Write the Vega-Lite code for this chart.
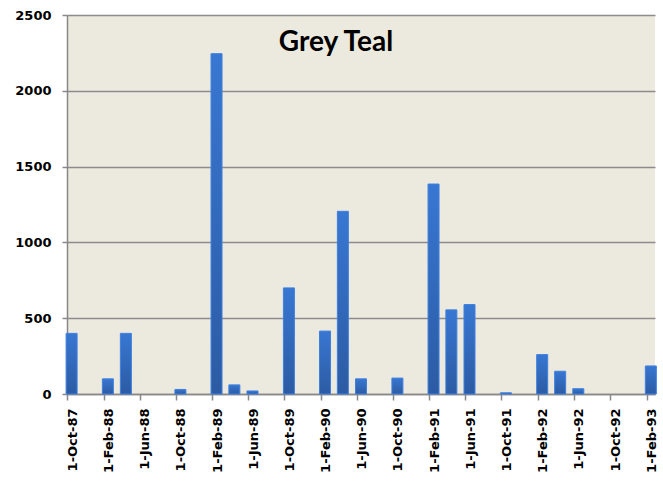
{
  "$schema": "https://vega.github.io/schema/vega-lite/v6.json",
  "width": 588,
  "height": 379,
  "autosize": {"type": "none"},
  "padding": {"left": 67, "top": 15, "right": 8, "bottom": 87},
  "background": "white",
  "title": {
    "text": "Grey Teal",
    "font": "Lato",
    "fontSize": 28,
    "fontWeight": "bold",
    "color": "black",
    "anchor": "middle",
    "frame": "group",
    "orient": "top",
    "dx": -25,
    "offset": -70,
    "baseline": "alphabetic"
  },
  "data": {
    "values": [
      {"date": "1987/10/01", "count": 400},
      {"date": "1988/02/01", "count": 100},
      {"date": "1988/04/01", "count": 400},
      {"date": "1988/10/01", "count": 30},
      {"date": "1989/02/01", "count": 2245},
      {"date": "1989/04/01", "count": 60},
      {"date": "1989/06/01", "count": 20},
      {"date": "1989/10/01", "count": 700},
      {"date": "1990/02/01", "count": 415},
      {"date": "1990/04/01", "count": 1205},
      {"date": "1990/06/01", "count": 100},
      {"date": "1990/10/01", "count": 105},
      {"date": "1991/02/01", "count": 1385},
      {"date": "1991/04/01", "count": 555},
      {"date": "1991/06/01", "count": 590},
      {"date": "1991/10/01", "count": 8},
      {"date": "1992/02/01", "count": 260},
      {"date": "1992/04/01", "count": 150},
      {"date": "1992/06/01", "count": 35},
      {"date": "1993/02/01", "count": 185}
    ]
  },
  "mark": {
    "type": "bar",
    "width": 11,
    "fill": {
      "gradient": "linear",
      "x1": 0, "y1": 0, "x2": 0, "y2": 1,
      "stops": [
        {"offset": 0, "color": "#3877D2"},
        {"offset": 1, "color": "#2C5BA3"}
      ]
    },
    "stroke": "#3E80E0",
    "strokeWidth": 1
  },
  "encoding": {
    "x": {
      "field": "date",
      "type": "temporal",
      "timeUnit": "yearmonth",
      "bandPosition": 0.5,
      "scale": {
        "domain": [
          {"year": 1987, "month": 10, "date": 1},
          {"year": 1993, "month": 3, "date": 1}
        ]
      },
      "axis": {
        "title": null,
        "values": [
          {"year": 1987, "month": 10, "date": 1},
          {"year": 1988, "month": 2, "date": 1},
          {"year": 1988, "month": 6, "date": 1},
          {"year": 1988, "month": 10, "date": 1},
          {"year": 1989, "month": 2, "date": 1},
          {"year": 1989, "month": 6, "date": 1},
          {"year": 1989, "month": 10, "date": 1},
          {"year": 1990, "month": 2, "date": 1},
          {"year": 1990, "month": 6, "date": 1},
          {"year": 1990, "month": 10, "date": 1},
          {"year": 1991, "month": 2, "date": 1},
          {"year": 1991, "month": 6, "date": 1},
          {"year": 1991, "month": 10, "date": 1},
          {"year": 1992, "month": 2, "date": 1},
          {"year": 1992, "month": 6, "date": 1},
          {"year": 1992, "month": 10, "date": 1},
          {"year": 1993, "month": 2, "date": 1}
        ],
        "format": "%-d-%b-%y",
        "formatType": "time",
        "labelAngle": -90,
        "labelAlign": "right",
        "labelBaseline": "middle",
        "labelFont": "DejaVu Sans",
        "labelFontWeight": "bold",
        "labelFontSize": 13,
        "labelColor": "black",
        "labelPadding": 8,
        "labelOffset": 5,
        "labelOverlap": false,
        "tickSize": 6,
        "tickColor": "#888888",
        "tickWidth": 1.5,
        "domainColor": "#888888",
        "domainWidth": 1.5,
        "grid": false
      }
    },
    "y": {
      "field": "count",
      "type": "quantitative",
      "scale": {"domain": [0, 2500], "nice": false},
      "axis": {
        "title": null,
        "values": [0, 500, 1000, 1500, 2000, 2500],
        "format": "d",
        "labelFont": "DejaVu Sans",
        "labelFontWeight": "bold",
        "labelFontSize": 13,
        "labelColor": "black",
        "labelPadding": 11,
        "tickSize": 5,
        "tickColor": "#888888",
        "tickWidth": 1.5,
        "domainColor": "#888888",
        "domainWidth": 1.5,
        "grid": true,
        "gridColor": "#8C8C8C",
        "gridWidth": 1.5
      }
    }
  },
  "config": {
    "view": {"fill": "#ECE9DF", "stroke": null}
  }
}
